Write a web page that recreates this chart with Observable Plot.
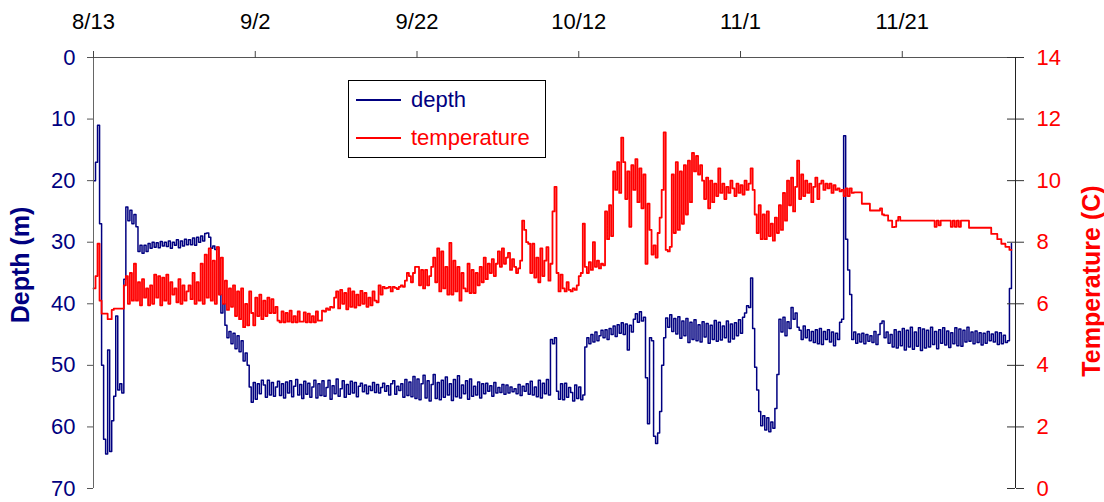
<!DOCTYPE html>
<html>
<head>
<meta charset="utf-8">
<script src="https://cdn.jsdelivr.net/npm/d3@7"></script>
<script src="https://cdn.jsdelivr.net/npm/@observablehq/plot@0.6"></script>
<style>
  body { margin: 0; background: #fff; }
  #wrap { position: relative; width: 1104px; height: 502px; font-family: "Liberation Sans", Arial, sans-serif; }
  #legend { position: absolute; left: 348px; top: 80px; width: 196px; height: 76px; border: 1px solid #000; background: #fff; }
  .lrow { position: absolute; left: 0; height: 28px; display: flex; align-items: center; font-size: 22px; }
  .lrow svg { margin-left: 7px; margin-right: 10px; }
</style>
</head>
<body>
<div id="wrap"><div id="chart"></div><div id="legend"></div></div>
<script>
// ---------------- data ----------------
const YEAR = 2002;
const dateTickLabels = ["8/13", "9/2", "9/22", "10/12", "11/1", "11/21"];
const axisEndLabel = "12/5";
const depthTicks = [0, 10, 20, 30, 40, 50, 60, 70];
const temperatureTicks = [0, 2, 4, 6, 8, 10, 12, 14];
const seriesNames = ["depth", "temperature"];
const seriesColors = ["#000080", "#ff0000"];
const sampleHours = 6; // one reading every 6 hours, starting 8/13

// depth (m), 4 readings per day
const depthValues = [
  20, 17, 11, 27,   50, 62, 64.4, 47.5,   64, 59, 55, 42,   54, 53, 54.5, 36,
  24.3, 26.5, 24.8, 27,   25.5, 27.5, 31.5, 30.5,   31.8, 30.5, 31.5, 30.2,   31, 30, 30.8, 30.1,
  30.9, 29.9, 30.6, 30,   30.7, 29.8, 31, 30,   30.5, 29.6, 30.9, 29.8,   30.6, 29.5, 30.4, 29.6,
  30.4, 29.3, 30.5, 29.2,   30, 29, 29.8, 28.6,   28.5, 29.2, 31, 30.6,   31.2, 30.8, 38.5, 41.5,
  40, 43.5, 45.5, 44.5,   46.5, 44.8, 47.3, 45.2,   47.8, 46, 49.3, 48,   50, 53.5, 56, 52.8,
  55.5, 53, 54.6, 52.4,   53.2, 55.2, 52.4, 54.8,   52.8, 55, 53.5, 52.6,   54.9, 53, 55.3, 52.7,
  54.5, 52.5, 55.1, 53.4,   52.3, 54.8, 53.1, 55.4,   52.6, 54.7, 52.9, 55.2,   53.5, 52.4, 55.3, 53,
  54.9, 52.5, 55, 53.6,   52.4, 55.5, 53.3, 54.6,   52.2, 55, 53.8, 52.5,   55.2, 53.1, 54.7, 52.6,
  54.5, 52.8, 55.1, 53.4,   52.9, 54.3, 53.2, 54.6,   53.4, 54.1, 52.8, 54.4,   53.1, 54.5, 53.6, 52.9,
  54.2, 53.3, 54.8, 53,   52.5, 54.7, 53.4, 54.1,   53, 55.2, 52.3, 54.9,   52.7, 55.1, 51.8, 55.4,
  52.2, 55.6, 53, 51.6,   55.3, 52.5, 55.8, 53.1,   51.5, 55.4, 52.8, 55.6,   52.4, 55.2, 51.9, 54.8,
  53, 55.7, 52.3, 55.1,   51.7, 55.3, 53.2, 54.6,   52.5, 55.5, 52.2, 55,   53.4, 54.8, 52.7, 55.3,
  53, 54.6, 52.9, 54.2,   53.3, 55, 52.8, 54.5,   53.6, 54.4, 53.1, 54.7,   53.2, 54.5, 53.5, 54.3,
  53.8, 54.6, 53.1, 54.9,   53.4, 54.2, 53, 54.7,   52.6, 54.8, 53.5, 55.1,   52.4, 55.3, 52.9, 54.6,
  52.3, 54.8, 45.8, 46.5,   45.5, 54.2, 55.5, 53,   55.6, 52.9, 55.2, 53.6,   54.4, 55.8, 53.2, 55.4,
  53.5, 55.6, 54.8, 47,   45.5, 46.5, 45, 46.2,   44.6, 46, 45.2, 44.3,   45.5, 44.2, 45.8, 44,
  45, 43.6, 45.3, 43.4,   44.8, 43.1, 45, 43.3,   47.5, 43.5, 44.6, 42.5,   41.6, 43, 41.3, 42.8,
  42.2, 52, 59.5, 45.5,   46, 61.5, 62.7, 61,   57.5, 50, 45.5, 42.3,   43.8, 41.8, 44.5, 42.4,
  44.9, 42.1, 45.6, 42.8,   45.2, 42.4, 46.3, 43,   45.8, 42.6, 46, 43.4,   46.2, 42.9, 45.4, 43.2,
  46.4, 43.5, 45.8, 42.7,   46.1, 43, 45.9, 43.6,   45.5, 42.8, 46.2, 43.3,   45.7, 43.1, 45.2, 42.6,
  44.8, 42.2, 41.5, 40.3,   40.6, 35.8, 44, 50.3,   54, 57.5, 59.8, 58.2,   60.5, 58.5, 60.8, 59.2,
  60.2, 57, 51.5, 42.5,   44.6, 42.2, 45.2, 42.9,   44, 40.6, 42.5, 41.5,   43.8, 44.3, 45.8, 43.6,
  45.5, 44.2, 46, 44.5,   46.3, 44.2, 46.5, 44,   46.6, 44.5, 45.8, 44.2,   46.2, 44.6, 46.8, 44.8,
  45.8, 43, 42.5, 12.7,   29.5, 34.5, 38.5, 45.8,   44.6, 46.4, 44.9, 46.2,   44.8, 46.5, 45, 46.1,
  45.2, 46.3, 44.5, 46.6,   45, 43.2, 42.8, 45.5,   44.6, 46.4, 45, 47,   44.2, 47.2, 44.5, 46.8,
  44, 47.5, 44.3, 47,   43.8, 47.4, 44.6, 46.9,   43.9, 47.6, 44.1, 47.2,   44.3, 47, 43.8, 46.6,
  44.5, 47.3, 44.2, 46.4,   43.9, 46.7, 44.4, 47.1,   44.7, 46.5, 43.9, 46.8,   44.1, 46.9, 44.3, 46.2,
  43.8, 46.1, 44.6, 46.5,   44.4, 46.3, 44.7, 46.7,   44.8, 46.4, 44.5, 46,   44.9, 46.2, 44.6, 46.6,
  44.7, 46.5, 45.1, 46.3,   46, 37.5, 30.2
];

// temperature (C), 4 readings per day
const temperatureValues = [
  6.5, 6.9, 7.95, 6.1,   5.68, 5.68, 5.68, 5.5,   5.5, 5.8, 5.84, 5.84,   5.84, 5.84, 5.84, 6.6,
  6.9, 6.0, 7.0, 6.1,   7.3, 6.1, 6.7, 5.95,   6.8, 6.2, 6.5, 5.95,   6.6, 6.0, 6.95, 6.2,
  6.9, 5.95, 6.85, 6.1,   6.95, 6.0, 6.7, 6.3,   6.5, 6.05, 6.8, 6.0,   6.6, 6.1, 6.4, 6.6,
  6.15, 7.0, 6.0, 6.7,   6.1, 7.3, 6.0, 7.6,   6.2, 7.8, 6.1, 7.4,   6.0, 7.84, 6.3, 7.5,
  6.0, 6.75, 5.8, 6.5,   5.9, 6.6, 5.6, 6.4,   5.5, 6.5, 5.24, 6.0,   5.3, 6.4, 5.7, 5.3,
  6.2, 5.6, 6.3, 5.5,   6.1, 5.6, 6.2, 5.7,   6.15, 5.7, 5.9, 5.45,   5.4, 5.75, 5.4, 5.7,
  5.42, 5.78, 5.4, 5.6,   5.4, 5.75, 5.42, 5.42,   5.72, 5.4, 5.68, 5.4,   5.6, 5.4, 5.75, 5.45,
  5.45, 5.78, 5.75, 5.85,   5.8, 5.9, 5.88, 6.2,   6.4, 5.85, 6.45, 6.0,   6.35, 5.82, 6.5, 5.9,
  6.4, 5.88, 6.3, 5.95,   6.42, 6.0, 6.35, 5.9,   6.2, 5.95, 6.4, 6.1,   6.05, 6.6, 6.3, 6.55,
  6.5, 6.52, 6.55, 6.4,   6.55, 6.52, 6.48, 6.55,   6.6, 6.55, 6.75, 7.0,   6.9, 6.7, 7.0, 7.2,
  7.2, 6.6, 7.1, 6.5,   7.1, 6.6, 6.9, 7.2,   7.5, 6.7, 7.8, 6.4,   7.7, 6.5, 7.2, 6.3,
  7.98, 6.3, 7.4, 6.4,   7.2, 6.1, 7.0, 6.5,   6.4, 7.3, 6.35, 7.1,   6.35, 7.0, 6.6, 7.2,
  6.7, 7.5, 6.8, 7.3,   7.0, 7.45, 6.9, 7.3,   7.7, 7.2, 7.8, 7.3,   7.5, 7.65, 7.1, 7.45,
  7.2, 7.0, 7.15, 7.4,   8.7, 8.4, 8.0, 7.95,   7.0, 7.95, 6.85, 7.5,   6.7, 7.8, 6.9, 7.4,
  7.84, 6.75, 7.3, 9.0,   9.8, 7.0, 6.4, 6.95,   6.5, 6.4, 6.7, 6.45,   6.4, 6.5, 6.45, 6.6,
  6.9, 7.0, 8.6, 7.2,   7.0, 7.35, 7.1, 8.0,   7.2, 7.4, 7.15, 7.3,   7.25, 9.0, 8.1, 9.2,
  8.2, 10.3, 9.7, 10.6,   9.6, 11.4, 10.6, 9.4,   10.3, 8.5, 10.5, 9.7,   10.7, 9.3, 10.4, 9.1,
  10.2, 7.3, 9.25, 8.4,   7.6, 7.9, 7.5, 8.3,   8.8, 9.7, 11.57, 7.75,   7.7, 7.85, 10.2, 8.3,
  10.6, 8.4, 10.3, 8.6,   10.5, 8.9, 10.65, 9.3,   10.9, 10.3, 10.8, 10.2,   10.5, 10.0, 9.4, 10.1,
  9.1, 10.0, 9.3, 9.9,   9.5, 10.4, 9.6, 9.9,   9.4, 9.8, 9.6, 10.0,   9.75, 9.5, 9.9, 9.6,
  9.85, 9.55, 10.0, 9.7,   9.9, 10.4, 9.7, 8.9,   8.3, 9.2, 8.1, 8.9,   8.1, 9.0, 8.2, 8.6,
  8.05, 8.8, 8.3, 9.2,   8.4, 9.6, 8.7, 10.0,   9.2, 10.1, 9.0, 9.8,   10.65, 9.4, 10.2, 9.5,
  10.0, 9.6, 9.9, 9.3,   9.8, 10.1, 9.4, 9.9,   10.0, 9.7, 9.9, 9.75,   9.9, 9.6, 9.85, 9.7,
  9.75, 9.65, 9.7, 9.5,   9.75, 9.5, 9.75, 9.6,   9.62, 9.62, 9.62, 9.62,   9.25, 9.25, 9.25, 9.25,
  9.03, 9.03, 9.03, 9.03,   9.03, 9.1, 8.9, 8.87,   8.87, 8.7, 8.7, 8.49,   8.5, 8.7, 8.82, 8.7,
  8.7, 8.7, 8.7, 8.7,   8.7, 8.7, 8.7, 8.7,   8.7, 8.7, 8.7, 8.7,   8.7, 8.7, 8.7, 8.7,
  8.5, 8.7, 8.55, 8.7,   8.7, 8.7, 8.7, 8.7,   8.5, 8.7, 8.5, 8.7,   8.5, 8.7, 8.7, 8.7,
  8.7, 8.47, 8.47, 8.47,   8.47, 8.47, 8.47, 8.47,   8.47, 8.47, 8.47, 8.47,   8.27, 8.27, 8.27, 8.1,
  8.1, 7.95, 7.95, 7.85,   7.85, 7.75, 7.75
];

// ---------------- build ----------------
const parseMD = s => { const [m, d] = s.split("/").map(Number); return new Date(Date.UTC(YEAR, m - 1, d)); };
const tickDates = dateTickLabels.map(parseMD);
const startDate = tickDates[0];
const endDate = parseMD(axisEndLabel);
const stepMs = sampleHours * 3600 * 1000;

const DEPTH_MAX = depthTicks[depthTicks.length - 1];
const TEMP_MAX = temperatureTicks[temperatureTicks.length - 1];
const tempToY = t => (TEMP_MAX - t) * (DEPTH_MAX / TEMP_MAX);
const yToTemp = v => Math.round(TEMP_MAX - v * (TEMP_MAX / DEPTH_MAX));

const depthData = depthValues.map((v, i) => ({date: new Date(+startDate + i * stepMs), depth: v}));
const tempData = temperatureValues.map((v, i) => ({date: new Date(+startDate + i * stepMs), temp: v}));

const W = 1104, H = 502;
const mL = 93, mR = 89, mT = 57, mB = 14;

const chart = Plot.plot({
  width: W, height: H,
  marginLeft: mL, marginRight: mR, marginTop: mT, marginBottom: mB,
  style: {fontFamily: "'Liberation Sans', Arial, sans-serif", fontSize: "22px", background: "#fff", overflow: "visible"},
  x: {type: "utc", domain: [startDate, endDate]},
  y: {domain: [0, DEPTH_MAX], reverse: true},
  marks: [
    Plot.line(depthData, {x: "date", y: "depth", stroke: seriesColors[0], strokeWidth: 1.5, curve: "step-after"}),
    Plot.line(tempData, {x: "date", y: d => tempToY(d.temp), stroke: seriesColors[1], strokeWidth: 1.8, curve: "step-after"}),
    Plot.ruleY([0], {stroke: "#555"}),
    Plot.ruleX([startDate], {stroke: "#666"}),
    Plot.ruleX([endDate], {stroke: "#222"}),
    Plot.axisX(tickDates, {anchor: "top", tickSize: 7, tickPadding: 22, tickFormat: d3.utcFormat("%-m/%-d"),
      fontSize: 22, stroke: "#444", fill: "#000", label: null}),
    Plot.axisY(depthTicks, {anchor: "left", tickSize: 6, tickPadding: 12, fontSize: 22,
      stroke: "#555", fill: "#000080", label: null}),
    Plot.axisY(temperatureTicks.map(tempToY), {anchor: "right", tickSize: 8, tickPadding: 13, fontSize: 22,
      tickFormat: yToTemp, stroke: "#333", fill: "#ff0000", label: null}),
    Plot.tickY(temperatureTicks.map(tempToY), {y: d => d, insetLeft: W - mL - mR - 8, stroke: "#333"}),
    Plot.text(["Depth (m)"], {text: d => d, frameAnchor: "left", textAnchor: "middle", dx: -73, dy: -8, rotate: -90,
      fontWeight: "bold", fontSize: 25, fill: "#000080"}),
    Plot.text(["Temperature (C)"], {text: d => d, frameAnchor: "right", textAnchor: "middle", dx: 76, dy: 8, rotate: -90,
      fontWeight: "bold", fontSize: 25, fill: "#ff0000"})
  ]
});
document.getElementById("chart").appendChild(chart);

// legend
const legend = document.getElementById("legend");
const rowCenters = [19, 57];
seriesNames.forEach((name, i) => {
  const row = document.createElement("div");
  row.className = "lrow";
  row.style.top = (rowCenters[i] - 14) + "px";
  row.style.color = seriesColors[i];
  row.innerHTML = `<svg width="45" height="4"><line x1="0" x2="45" y1="2" y2="2" stroke="${seriesColors[i]}" stroke-width="2"/></svg><span>${name}</span>`;
  legend.appendChild(row);
});
</script>
</body>
</html>
